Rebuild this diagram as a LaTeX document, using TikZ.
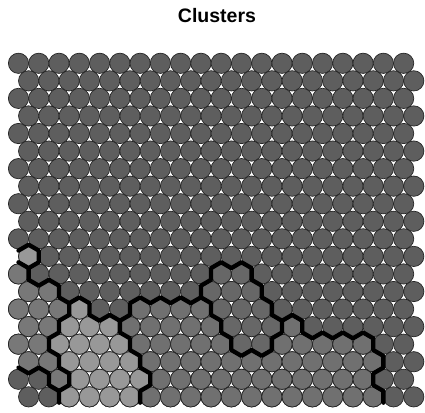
\documentclass[tikz,border=0pt]{standalone}
\usepackage{fontspec}
\setmainfont{Liberation Sans}
\definecolor{cA}{HTML}{5E5E5E}
\definecolor{cM}{HTML}{707070}
\definecolor{cQ}{HTML}{676767}
\definecolor{cLm}{HTML}{787878}
\definecolor{cL}{HTML}{989898}
\tikzset{
  cell/.style={draw=black!85, line width=0.7pt},
  bnd/.style={draw=black, line width=4.3pt, line cap=round, line join=round},
  titletext/.style={font=\bfseries\fontsize{19.5}{22}\selectfont, anchor=base, inner sep=0pt}
}
\begin{document}
\begin{tikzpicture}[x=1pt,y=1pt]
\useasboundingbox (0,0) rectangle (425,412);
\fill[white] (0,0) rectangle (425,412);
\node[titletext] (title) at (217,389.3) {Clusters};
% centres and hexagon vertices
\foreach \r in {0,...,19}{
  \foreach \c in {0,...,19}{
    \pgfmathsetmacro\xx{18.5+20.27*\c+10.135*mod(\r,2)}
    \pgfmathsetmacro\yy{412-63.3-17.555*\r}
    \coordinate (u-\r-\c) at (\xx,\yy);
    \coordinate (u-\r-\c-t)  at (\xx,\yy+11.703);
    \coordinate (u-\r-\c-b)  at (\xx,\yy-11.703);
    \coordinate (u-\r-\c-ur) at (\xx+10.135,\yy+5.8515);
    \coordinate (u-\r-\c-lr) at (\xx+10.135,\yy-5.8515);
    \coordinate (u-\r-\c-ul) at (\xx-10.135,\yy+5.8515);
    \coordinate (u-\r-\c-ll) at (\xx-10.135,\yy-5.8515);
  }
}
% all units dark
\foreach \r in {0,...,19}{
  \foreach \c in {0,...,19}{
    \filldraw[cell, fill=cA] (u-\r-\c) circle (10.135);
  }
}
% light units
\foreach \r/\a/\b in {11/0/0, 14/3/3, 15/2/4, 16/2/5, 17/2/5, 18/3/6, 19/2/5}{
  \foreach \c in {\a,...,\b}{\filldraw[cell, fill=cL] (u-\r-\c) circle (10.135);}
}
% left medium units
\foreach \r/\a/\b in {12/0/0, 13/0/1, 14/0/2, 15/0/1, 16/0/1, 17/0/1, 18/2/2}{
  \foreach \c in {\a,...,\b}{\filldraw[cell, fill=cLm] (u-\r-\c) circle (10.135);}
}
% right medium units
\foreach \r/\a/\b in {14/6/9, 15/5/9, 15/13/13, 16/6/10, 16/13/17, 17/6/17, 18/7/17, 19/6/17}{
  \foreach \c in {\a,...,\b}{\filldraw[cell, fill=cM] (u-\r-\c) circle (10.135);}
}
% inner units
\foreach \r/\a/\b in {12/10/11, 13/9/11, 14/10/12, 15/10/12, 16/11/12}{
  \foreach \c in {\a,...,\b}{\filldraw[cell, fill=cQ] (u-\r-\c) circle (10.135);}
}
% cluster boundaries
\draw[bnd] (u-11-0-ul) -- (u-11-0-t) -- (u-11-0-ur) -- (u-11-0-lr) -- (u-11-0-b) -- (u-11-0-ll);
\draw[bnd] (u-11-0-b) -- (u-12-0-lr) -- (u-12-1-b) -- (u-12-1-lr) -- (u-13-1-ur) -- (u-13-1-lr)
  -- (u-14-2-ur) -- (u-14-2-lr) -- (u-15-2-ul) -- (u-15-2-ll) -- (u-16-2-ul) -- (u-16-2-ll)
  -- (u-17-1-ur) -- (u-17-1-lr) -- (u-18-2-ur) -- (u-18-2-lr) -- (u-18-2-b) -- (u-19-1-lr);
\draw[bnd] (u-18-2-b) -- (u-18-2-ll) -- (u-18-2-ul) -- (u-18-1-t) -- (u-18-1-ul) -- (u-18-0-t);
\draw[bnd] (u-14-2-ur) -- (u-14-3-t) -- (u-14-3-ur) -- (u-14-3-lr) -- (u-15-3-ur) -- (u-15-4-t)
  -- (u-15-4-ur) -- (u-15-4-lr) -- (u-16-5-ur) -- (u-16-5-lr) -- (u-17-5-ur) -- (u-17-5-lr)
  -- (u-18-6-ur) -- (u-18-6-lr) -- (u-18-6-b) -- (u-19-5-lr);
\draw[bnd] (u-15-4-ur) -- (u-15-5-t) -- (u-14-6-ul) -- (u-14-6-t) -- (u-14-6-ur) -- (u-14-7-t)
  -- (u-14-7-ur) -- (u-14-8-t) -- (u-14-8-ur) -- (u-14-9-t) -- (u-13-9-ul) -- (u-13-9-t)
  -- (u-12-10-ul) -- (u-12-10-t) -- (u-12-10-ur) -- (u-12-11-t) -- (u-12-11-ur) -- (u-12-11-lr)
  -- (u-13-11-ur) -- (u-13-11-lr) -- (u-14-12-ur) -- (u-14-12-lr) -- (u-15-12-ur) -- (u-15-13-t)
  -- (u-15-13-ur) -- (u-15-13-lr) -- (u-16-14-ur) -- (u-16-15-t) -- (u-16-15-ur) -- (u-16-16-t)
  -- (u-16-16-ur) -- (u-16-17-t) -- (u-16-17-ur) -- (u-16-17-lr) -- (u-17-17-ur) -- (u-17-17-lr)
  -- (u-17-17-b) -- (u-18-17-lr) -- (u-19-17-ur) -- (u-19-17-lr);
\draw[bnd] (u-14-9-t) -- (u-14-9-ur) -- (u-14-9-lr) -- (u-15-9-ur) -- (u-15-9-lr) -- (u-16-10-ur)
  -- (u-16-10-lr) -- (u-17-10-ur) -- (u-17-11-t) -- (u-17-11-ur) -- (u-17-12-t) -- (u-16-12-ur)
  -- (u-16-13-t) -- (u-15-12-ur);
\end{tikzpicture}
\end{document}
